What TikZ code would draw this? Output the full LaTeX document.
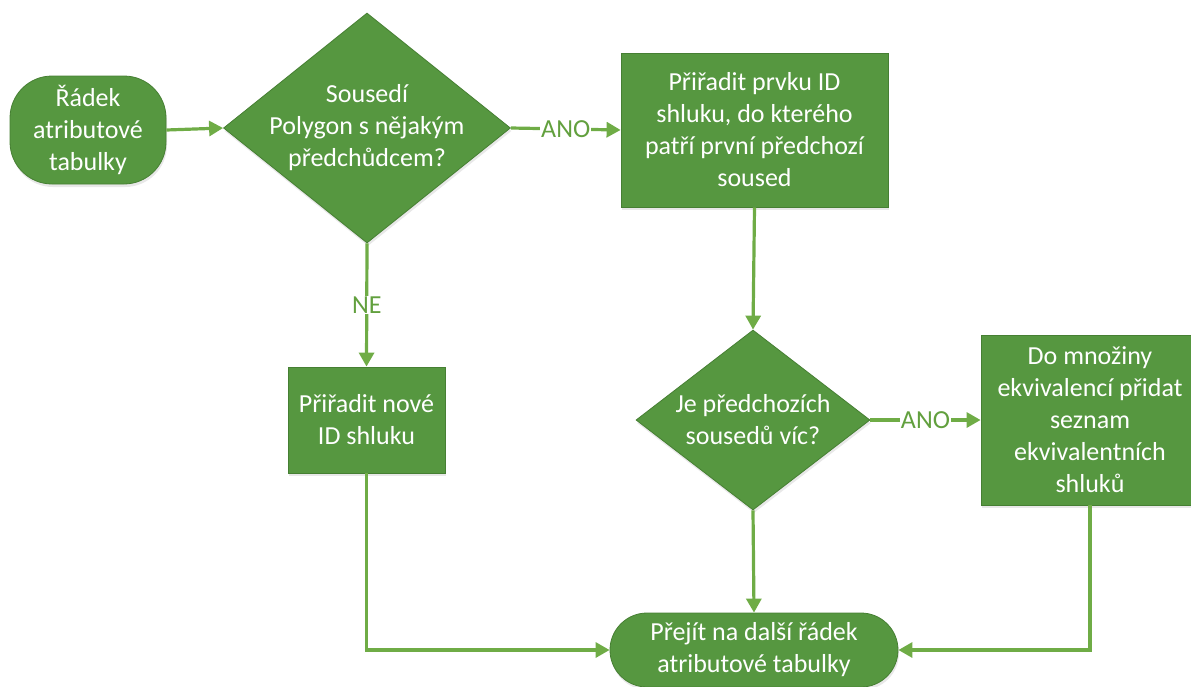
\documentclass[tikz,border=0pt]{standalone}
\usepackage{fontspec}
\setmainfont{Carlito}
\usetikzlibrary{shapes.geometric,arrows.meta,shadows}
\definecolor{boxfill}{HTML}{569740}
\definecolor{boxline}{HTML}{467F33}
\definecolor{flow}{HTML}{6FAC46}
\definecolor{flowtext}{HTML}{62A03E}
\begin{document}
\begin{tikzpicture}[x=1pt,y=-1pt,
  bigtext/.style={font=\fontsize{26}{32}\selectfont},
  shape base/.style={draw=boxline, line width=0.8pt, fill=boxfill, text=white,
    align=center, bigtext, inner sep=0pt,
    drop shadow={opacity=0.18, shadow xshift=1pt, shadow yshift=-3pt}},
  procbox/.style={shape base, rectangle},
  termbox/.style={shape base, rectangle, rounded corners=#1},
  decbox/.style={shape base, diamond},
  inlabel/.style={text=white, align=center, bigtext},
  flowline/.style={draw=flow, line width=3.2pt, -{Triangle[length=14pt,width=15pt]}},
  flowlabel/.style={fill=white, text=flowtext, bigtext, inner sep=1pt}
]
\useasboundingbox (0,0) rectangle (1191,686);

% terminals
\node[termbox=42pt, minimum width=156pt, minimum height=108pt] (start) at (88,130)
  {Řádek\\atributové\\tabulky};
\node[termbox=37pt, minimum width=288pt, minimum height=74pt] (next) at (754,650)
  {Přejít na další řádek\\atributové tabulky};

% decisions
\node[decbox, minimum width=287pt, minimum height=230pt,
  label={[inlabel]center:Sousedí\\Polygon s nějakým\\předchůdcem?}] (dec1) at (367,128) {};
\node[decbox, minimum width=234pt, minimum height=180pt,
  label={[inlabel]center:Je předchozích\\sousedů víc?}] (dec2) at (753,420) {};

% processes
\node[procbox, minimum width=267pt, minimum height=154pt] (assign) at (754.5,130)
  {Přiřadit prvku ID\\shluku, do kterého\\patří první předchozí\\soused};
\node[procbox, minimum width=157pt, minimum height=106pt] (newid) at (366.5,420)
  {Přiřadit nové\\ID shluku};
\node[procbox, minimum width=218pt, minimum height=170pt] (equiv) at (1090,420)
  {Do množiny\\ekvivalencí přidat\\seznam\\ekvivalentních\\shluků};

% connectors
\draw[flowline] (start.east) -- (dec1.west);
\draw[flowline] (dec1.east) -- node[flowlabel]{ANO} (assign.west);
\draw[flowline] (dec1.south) -- node[flowlabel]{NE} (newid.north);
\draw[flowline] (assign.south) -- (dec2.north);
\draw[flowline] (dec2.east) -- node[flowlabel]{ANO} (equiv.west);
\draw[flowline] (dec2.south) -- (next.north);
\draw[flowline] (newid.south) |- (next.west);
\draw[flowline] (equiv.south) |- (next.east);
\end{tikzpicture}
\end{document}
